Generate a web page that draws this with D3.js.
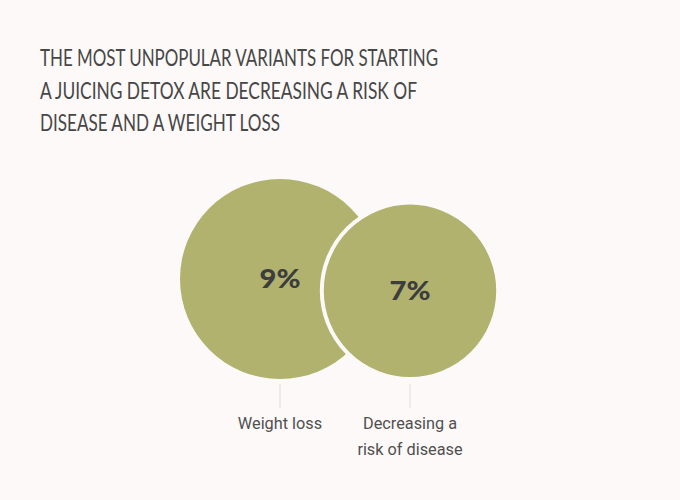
<!DOCTYPE html>
<html><head><meta charset="utf-8">
<script src="https://cdn.jsdelivr.net/npm/d3@7"></script>
<style>html,body{margin:0;padding:0;background:#fcf9f8;}</style>
</head><body>
<script>
const categories = ["Weight loss", "Decreasing a risk of disease"];
const labelLines = [["Weight loss"], ["Decreasing a", "risk of disease"]];
const values = [9, 7];
const valueLabels = ["9%", "7%"];
const titleLines = ["THE MOST UNPOPULAR VARIANTS FOR STARTING", "A JUICING DETOX ARE DECREASING A RISK OF", "DISEASE AND A WEIGHT LOSS"];
const titleWidths = [398, 377, 240];

const W = 680, H = 500;
const svg = d3.select("body").append("svg").attr("width", W).attr("height", H)
  .style("background", "#fcf9f8");

const tg = svg.append("g");
titleLines.forEach((t, i) => {
  tg.append("text").attr("x", 40).attr("y", 66 + i * 32.5)
    .attr("font-family", "Lato, 'Open Sans', sans-serif").attr("font-size", 22.5)
    .attr("fill", "#474747").attr("textLength", titleWidths[i]).attr("lengthAdjust", "spacingAndGlyphs")
    .text(t);
});

const x = d3.scalePoint().domain(categories).range([280, 410]);
const r = d3.scaleSqrt().domain([0, 9]).range([0, 100]);
const baseY = 379;
const data = categories.map((c, i) => ({c, v: values[i], label: valueLabels[i], lines: labelLines[i]}));

const g = svg.append("g");
g.selectAll("circle").data(data).join("circle")
  .attr("cx", d => x(d.c)).attr("cy", d => baseY - r(d.v)).attr("r", d => r(d.v))
  .attr("fill", "#b0b26e")
  .attr("stroke", (d, i) => i === 0 ? "none" : "#fcf9f8").attr("stroke-width", 4);

g.selectAll("text.val").data(data).join("text").attr("class", "val")
  .attr("x", d => x(d.c)).attr("y", d => baseY - r(d.v) + 9)
  .attr("text-anchor", "middle").attr("font-family", "Lato, sans-serif").attr("font-weight", 900)
  .attr("font-size", 26).attr("fill", "#3d3d3d")
  .attr("textLength", 41).attr("lengthAdjust", "spacingAndGlyphs")
  .text(d => d.label);

g.selectAll("line.tick").data(data).join("line").attr("class", "tick")
  .attr("x1", d => x(d.c)).attr("x2", d => x(d.c)).attr("y1", 384).attr("y2", 408)
  .attr("stroke", "#e2ddd8").attr("stroke-width", 1);

data.forEach(d => {
  d.lines.forEach((l, j) => {
    g.append("text").attr("x", x(d.c)).attr("y", 429 + j * 26)
      .attr("text-anchor", "middle").attr("font-family", "Roboto, sans-serif")
      .attr("font-size", 16.3).attr("fill", "#505050").text(l);
  });
});
</script>
</body></html>
